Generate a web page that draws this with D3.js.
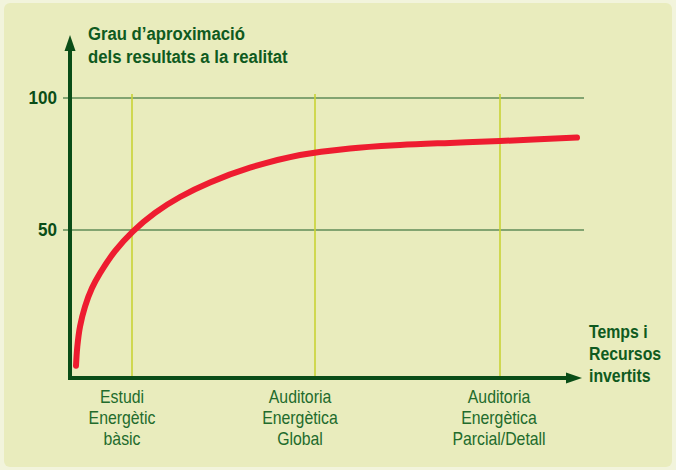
<!DOCTYPE html>
<html><head><meta charset="utf-8">
<script src="https://cdn.jsdelivr.net/npm/d3@7"></script>
<style>html,body{margin:0;padding:0;background:#f2f4dc;}svg{display:block;}</style>
</head><body>
<svg id="c" width="676" height="470"></svg>
<script>
// Data
const yTickValues = [50, 100];
const categories = [
  ["Estudi", "Energètic", "bàsic"],
  ["Auditoria", "Energètica", "Global"],
  ["Auditoria", "Energètica", "Parcial/Detall"]
];
const categoryPositions = [62, 245, 430];      // position along "temps" axis
const categoryLabelPositions = [52, 230, 429];  // label centres
const curveX = [6, 7.3, 10, 15, 22, 30, 45, 63, 85, 110, 140, 180, 230, 280, 330, 380, 430, 507];
const curveY = [-1.4, 5.8, 13.4, 21, 28, 33.6, 42, 49.5, 56.5, 62.5, 68, 73.6, 78.4, 80.9, 82.2, 83, 83.7, 85];
const yTitle = ["Grau d\u2019aproximació", "dels resultats a la realitat"];
const xTitle = ["Temps i", "Recursos", "invertits"];

const svg = d3.select("#c");
const W = 676, H = 470;
const dark = "#0a4d17", txt = "#226b2c", titleCol = "#0f5a20";
const font = "'Liberation Sans',Arial,sans-serif";
const sx = 0.88;

svg.append("rect").attr("x", 4).attr("y", 3).attr("width", W - 8).attr("height", H - 6)
  .attr("rx", 6).attr("fill", "#e9ecbd");

const x = d3.scaleLinear().domain([0, 510]).range([70, 580]);
const y = d3.scaleLinear().domain([0, 100]).range([362, 98]);

// horizontal grid
svg.append("g").selectAll("line").data(yTickValues).join("line")
  .attr("x1", 63).attr("x2", 584)
  .attr("y1", d => y(d)).attr("y2", d => y(d))
  .attr("stroke", "#5f8c59").attr("stroke-width", 1.6);

// vertical category lines
svg.append("g").selectAll("line").data(categoryPositions).join("line")
  .attr("x1", d => x(d)).attr("x2", d => x(d))
  .attr("y1", 94).attr("y2", 376)
  .attr("stroke", "#c8d435").attr("stroke-width", 1.6);

// curve
const pts = curveX.map((d, i) => [d, curveY[i]]);
svg.append("path").datum(pts)
  .attr("d", d3.line().x(d => x(d[0])).y(d => y(d[1])).curve(d3.curveCatmullRom.alpha(0.5)))
  .attr("fill", "none").attr("stroke", "#ee1c30").attr("stroke-width", 6)
  .attr("stroke-linecap", "round");

// axes
svg.append("line").attr("x1", 70).attr("x2", 70).attr("y1", 380).attr("y2", 48)
  .attr("stroke", dark).attr("stroke-width", 4);
svg.append("path").attr("d", "M70,35 L64.5,51 L75.5,51 Z").attr("fill", dark);
svg.append("line").attr("x1", 68).attr("x2", 570).attr("y1", 378).attr("y2", 378)
  .attr("stroke", dark).attr("stroke-width", 4);
svg.append("path").attr("d", "M582,378 L566,372.5 L566,383.5 Z").attr("fill", dark);

function scaledText(sel, fx, fy, k) {
  return sel.attr("transform", (d, i) => `translate(${fx(d, i)},${fy(d, i)}) scale(${k},1)`)
    .attr("font-family", font);
}

// y tick labels
scaledText(svg.append("g").selectAll("text").data(yTickValues).join("text"),
  () => 57, d => y(d) + 6, 0.95)
  .attr("text-anchor", "end").attr("font-weight", "bold")
  .attr("font-size", 18).attr("fill", dark).text(d => d);

// y title
scaledText(svg.append("g").selectAll("text").data(yTitle).join("text"),
  () => 88, (d, i) => 40 + i * 23, sx)
  .attr("font-weight", "bold").attr("font-size", 19).attr("fill", titleCol).text(d => d);

// x title
scaledText(svg.append("g").selectAll("text").data(xTitle).join("text"),
  () => 589, (d, i) => 338 + i * 22, sx)
  .attr("font-weight", "bold").attr("font-size", 18).attr("fill", titleCol).text(d => d);

// category labels
categories.forEach((lines, ci) => {
  scaledText(svg.append("g").selectAll("text").data(lines).join("text"),
    () => x(categoryLabelPositions[ci]), (d, i) => 403 + i * 21, sx)
    .attr("text-anchor", "middle").attr("font-size", 18).attr("fill", txt).text(d => d);
});
</script>
</body></html>
